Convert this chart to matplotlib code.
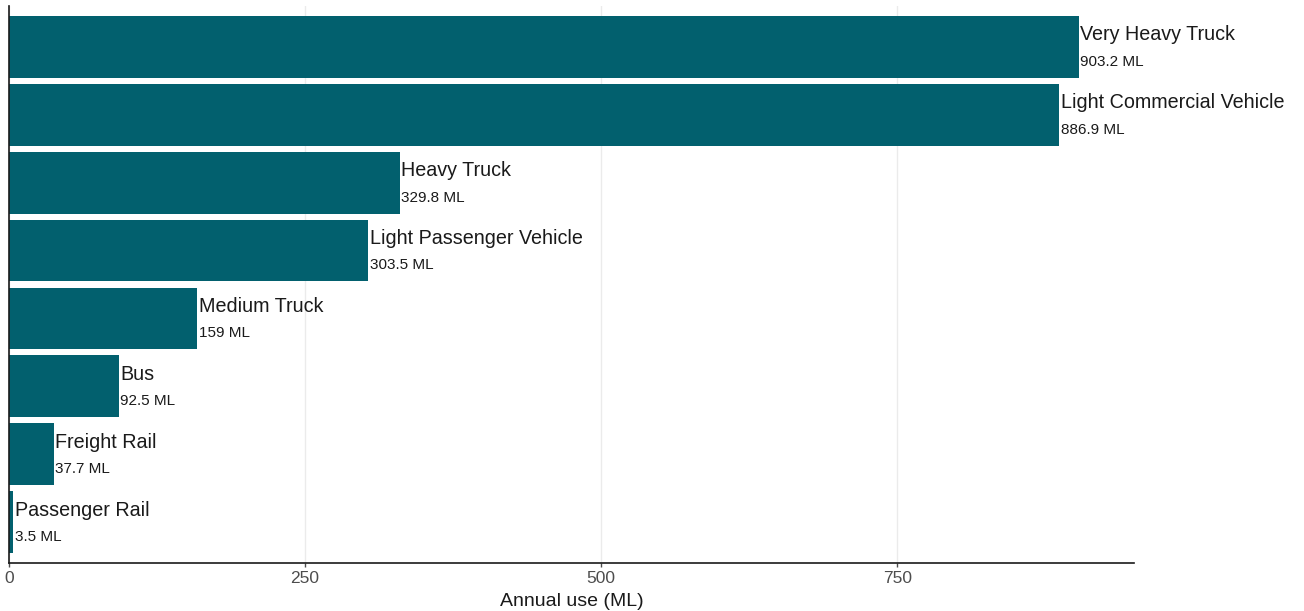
import matplotlib
matplotlib.use('Agg')
import matplotlib.pyplot as plt

# 年間燃料使用量（ML）
categories = ["Very Heavy Truck", "Light Commercial Vehicle", "Heavy Truck",
              "Light Passenger Vehicle", "Medium Truck", "Bus",
              "Freight Rail", "Passenger Rail"]
values = [903.2, 886.9, 329.8, 303.5, 159, 92.5, 37.7, 3.5]
value_labels = ["903.2 ML", "886.9 ML", "329.8 ML", "303.5 ML",
                "159 ML", "92.5 ML", "37.7 ML", "3.5 ML"]
xticks = [0, 250, 500, 750]

bar_color = "#02606e"


def main():
    plt.rcParams["font.family"] = ["Liberation Sans", "DejaVu Sans"]

    fig = plt.figure(figsize=(13.04, 6.11), dpi=100)
    ax = fig.add_axes([9 / 1304, 1 - 563 / 611, (1134 - 9) / 1304, (563 - 6) / 611])

    # 上から大きい順に並べる
    ypos = list(range(len(categories)))[::-1]
    ax.barh(ypos, values, height=0.91, color=bar_color, zorder=2)

    for y, v, name, lab in zip(ypos, values, categories, value_labels):
        ax.text(v + 1.5, y + 0.18, name, va="center", ha="left",
                fontsize=14.2, color="#1a1a1a", zorder=3)
        ax.text(v + 1.5, y - 0.22, lab, va="center", ha="left",
                fontsize=11, color="#1a1a1a", zorder=3)

    ax.set_xlim(0, 950)
    ax.set_ylim(-0.6, len(categories) - 1 + 0.6)
    ax.set_xticks(xticks)
    ax.set_xticklabels([str(t) for t in xticks])
    ax.set_yticks([])
    ax.grid(axis="x", color="#ebebeb", linewidth=1.0, zorder=0)

    for side in ["top", "right"]:
        ax.spines[side].set_visible(False)
    for side in ["left", "bottom"]:
        ax.spines[side].set_color("#1a1a1a")
        ax.spines[side].set_linewidth(1.2)

    ax.tick_params(axis="x", colors="#4d4d4d", labelsize=12.5, length=3, width=1, pad=3)
    ax.set_xlabel("Annual use (ML)", fontsize=14, color="#1a1a1a", labelpad=5)

    fig.savefig("out.png", dpi=100, facecolor="white")


if __name__ == "__main__":
    main()
